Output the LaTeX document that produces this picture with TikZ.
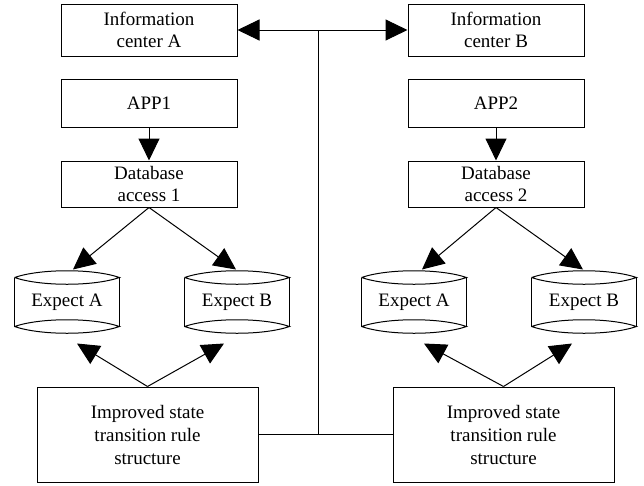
\documentclass[tikz,border=0pt]{standalone}
\usepackage{fontspec}
\setmainfont{Liberation Serif}
\usetikzlibrary{arrows.meta,calc}
\begin{document}
\begin{tikzpicture}[x=1pt,y=-1pt,
  line width=1pt,
  box/.style={draw, rectangle, align=center, font=\fontsize{19}{22}\selectfont,
    inner sep=0pt, minimum width=176pt},
  bigbox/.style={box, minimum width=221pt, minimum height=95pt, font=\fontsize{19}{23}\selectfont},
  barrel/.style={rectangle, align=center, font=\fontsize{19}{22}\selectfont,
    inner sep=0pt, minimum width=104pt, minimum height=48pt},
  arr/.style={-{Triangle[length=22pt,width=21pt]}},
  biarr/.style={{Triangle[length=22pt,width=21pt]}-{Triangle[length=22pt,width=21pt]}}]
\useasboundingbox (0,0) rectangle (644,485);

% top-level information centres
\node[box, minimum height=52pt] (icA) at (149,30) {Information\\center A};
\node[box, minimum height=52pt] (icB) at (496,30) {Information\\center B};

% applications
\node[box, minimum height=48pt] (app1) at (149,103) {APP1};
\node[box, minimum height=48pt] (app2) at (496,103) {APP2};

% database access layers
\node[box, minimum height=46pt] (db1) at (149,184) {Database\\access 1};
\node[box, minimum height=46pt] (db2) at (496,184) {Database\\access 2};

% storage barrels
\node[barrel] (l1) at (67,302) {Expect A};
\node[barrel] (l2) at (237,302) {Expect B};
\node[barrel] (r1) at (414,302) {Expect A};
\node[barrel] (r2) at (584,302) {Expect B};

% barrel outlines: straight sides with lens-shaped caps
\foreach \n in {l1,l2,r1,r2}{
  \draw (\n.north west) -- (\n.south west);
  \draw (\n.north east) -- (\n.south east);
  \draw (\n.north west) .. controls ($(\n.north west)+(26,-9)$) and ($(\n.north east)+(-26,-9)$) .. (\n.north east)
        .. controls ($(\n.north east)+(-26,9)$) and ($(\n.north west)+(26,9)$) .. (\n.north west);
  \draw (\n.south west) .. controls ($(\n.south west)+(26,-9)$) and ($(\n.south east)+(-26,-9)$) .. (\n.south east)
        .. controls ($(\n.south east)+(-26,9)$) and ($(\n.south west)+(26,9)$) .. (\n.south west);
}

% rule-structure blocks
\node[bigbox] (impL) at (147.5,434.5) {Improved state\\transition rule\\structure};
\node[bigbox] (impR) at (503.5,434.5) {Improved state\\transition rule\\structure};

% application to database
\draw[arr] (app1) -- (db1);
\draw[arr] (app2) -- (db2);

% database to barrels
\draw[arr] (db1.south) -- ([xshift=6pt,yshift=8pt]l1.north);
\draw[arr] (db1.south) -- ([xshift=-1pt,yshift=8pt]l2.north);
\draw[arr] (db2.south) -- ([xshift=8pt,yshift=8pt]r1.north);
\draw[arr] (db2.south) -- ([xshift=-1pt,yshift=8pt]r2.north);

% rule structures back to barrels
\draw[arr] (impL.north) -- ([xshift=10pt,yshift=-17pt]l1.south);
\draw[arr] (impL.north) -- ([xshift=-13pt,yshift=-17pt]l2.south);
\draw[arr] (impR.north) -- ([xshift=10pt,yshift=-17pt]r1.south);
\draw[arr] (impR.north) -- ([xshift=-12pt,yshift=-17pt]r2.south);

% link between the two sides
\coordinate (jt) at (318,30);
\coordinate (jb) at (318,434.5);
\draw[biarr] (icA.east) -- (icB.west);
\draw (jt) -- (jb);
\draw (impL.east) -- (impR.west);
\end{tikzpicture}
\end{document}
